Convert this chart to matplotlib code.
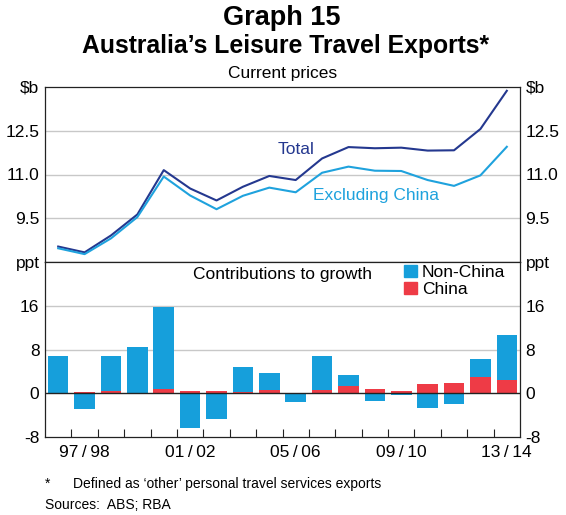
import matplotlib
matplotlib.use("Agg")
import matplotlib.pyplot as plt
from matplotlib.patches import Patch
import numpy as np

plt.rcParams['font.family'] = ['Liberation Sans', 'DejaVu Sans']

# financial years 1996/97 .. 2013/14
years = ['96/97', '97/98', '98/99', '99/00', '00/01', '01/02', '02/03', '03/04', '04/05',
         '05/06', '06/07', '07/08', '08/09', '09/10', '10/11', '11/12', '12/13', '13/14']
total = [8.53, 8.33, 8.91, 9.63, 11.15, 10.52, 10.11, 10.58, 10.95,
         10.81, 11.55, 11.94, 11.90, 11.92, 11.82, 11.83, 12.56, 13.87]
excl_china = [8.47, 8.27, 8.81, 9.54, 10.93, 10.28, 9.81, 10.27, 10.55,
              10.39, 11.06, 11.27, 11.13, 11.12, 10.81, 10.61, 10.97, 11.95]
# contributions to growth, ppt
non_china = [6.8, -2.8, 6.4, 8.4, 15.0, -6.3, -4.7, 4.6, 3.1,
             -1.6, 6.3, 2.1, -1.35, -0.3, -2.7, -1.9, 3.2, 8.2]
china = [0.05, 0.2, 0.4, 0.1, 0.8, 0.35, 0.5, 0.2, 0.55,
         0.05, 0.6, 1.3, 0.86, 0.5, 1.65, 1.8, 3.0, 2.4]
label_years = ['97/98', '01/02', '05/06', '09/10', '13/14']

dark = '#24388F'
light = '#1FA2DD'
bar_blue = '#169FDB'
bar_red = '#EE3B46'
grid_c = '#C8C8C8'

x = np.arange(len(years))

fig = plt.figure(figsize=(5.66, 5.15), dpi=100)
fig.text(0.497, 0.966, 'Graph 15', ha='center', va='center', fontsize=19.5, fontweight='bold')
fig.text(0.504, 0.911, 'Australia\u2019s Leisure Travel Exports*', ha='center', va='center',
         fontsize=17.8, fontweight='bold')
fig.text(0.499, 0.858, 'Current prices', ha='center', va='center', fontsize=12.5)

L, W = 45 / 566, 475 / 566
ax1 = fig.add_axes([L, 1 - 262 / 515, W, 175 / 515])
ax2 = fig.add_axes([L, 1 - 437 / 515, W, 175 / 515])

# top panel
ax1.plot(x, total, color=dark, lw=1.5, zorder=3)
ax1.plot(x, excl_china, color=light, lw=1.5, zorder=3)
ax1.set_xlim(-0.5, len(years) - 0.5)
ax1.set_ylim(8, 14)
ax1.set_yticks([8, 9.5, 11, 12.5, 14])
ax1.set_yticklabels(['', '9.5', '11.0', '12.5', r'\$b'])
for v in [9.5, 11, 12.5]:
    ax1.axhline(v, color=grid_c, lw=1, zorder=1)
ax1.set_xticks([])
ax1.text(9.0, 11.85, 'Total', color=dark, fontsize=12.5, ha='center', va='center')
ax1.text(12.05, 10.28, 'Excluding China', color=light, fontsize=12.5, ha='center', va='center')

# bottom panel: stacked contributions (China at base)
pos_base = np.zeros(len(x))
neg_base = np.zeros(len(x))
for vals, col in [(china, bar_red), (non_china, bar_blue)]:
    vals = np.array(vals)
    bottoms = np.where(vals >= 0, pos_base, neg_base)
    ax2.bar(x, vals, width=0.78, bottom=bottoms, color=col, zorder=2)
    pos_base = pos_base + np.clip(vals, 0, None)
    neg_base = neg_base + np.clip(vals, None, 0)
ax2.set_xlim(-0.5, len(years) - 0.5)
ax2.set_ylim(-8, 24)
ax2.set_yticks([-8, 0, 8, 16, 24])
ax2.set_yticklabels(['-8', '0', '8', '16', 'ppt'])
for v in [8, 16]:
    ax2.axhline(v, color=grid_c, lw=1, zorder=1)
ax2.axhline(0, color='#222222', lw=1, zorder=3)
ax2.set_xticks([years.index(y) for y in label_years])
ax2.set_xticklabels([y.replace('/', '\u2009/\u2009') for y in label_years], fontsize=12.5)
ax2.set_xticks(x[:-1] + 0.5, minor=True)
ax2.tick_params(axis='x', which='major', length=0, pad=6)
ax2.tick_params(axis='x', which='minor', direction='in', length=5.5, width=0.8, color='#222222')
ax2.text(8.5, 21.8, 'Contributions to growth', fontsize=12.5, ha='center', va='center')
handles = [Patch(color=bar_blue), Patch(color=bar_red)]
ax2.legend(handles, ['Non-China', 'China'], loc='upper left', bbox_to_anchor=(0.755, 0.985),
           frameon=False, fontsize=12.5, borderpad=0, borderaxespad=0, handlelength=0.75,
           handleheight=0.75, handletextpad=0.3, labelspacing=0.1)

for ax in (ax1, ax2):
    ax.tick_params(axis='y', length=0, labelsize=12.5, labelleft=True, labelright=True, pad=4)
    for s in ax.spines.values():
        s.set_color('#222222')
        s.set_linewidth(0.9)

fig.text(45 / 566, 1 - 484 / 515, '*', fontsize=10, va='center')
fig.text(73 / 566, 1 - 484 / 515, 'Defined as \u2018other\u2019 personal travel services exports',
         fontsize=10, va='center')
fig.text(45 / 566, 1 - 505 / 515, 'Sources:  ABS; RBA', fontsize=10, va='center')

fig.savefig('out.png', dpi=100)
